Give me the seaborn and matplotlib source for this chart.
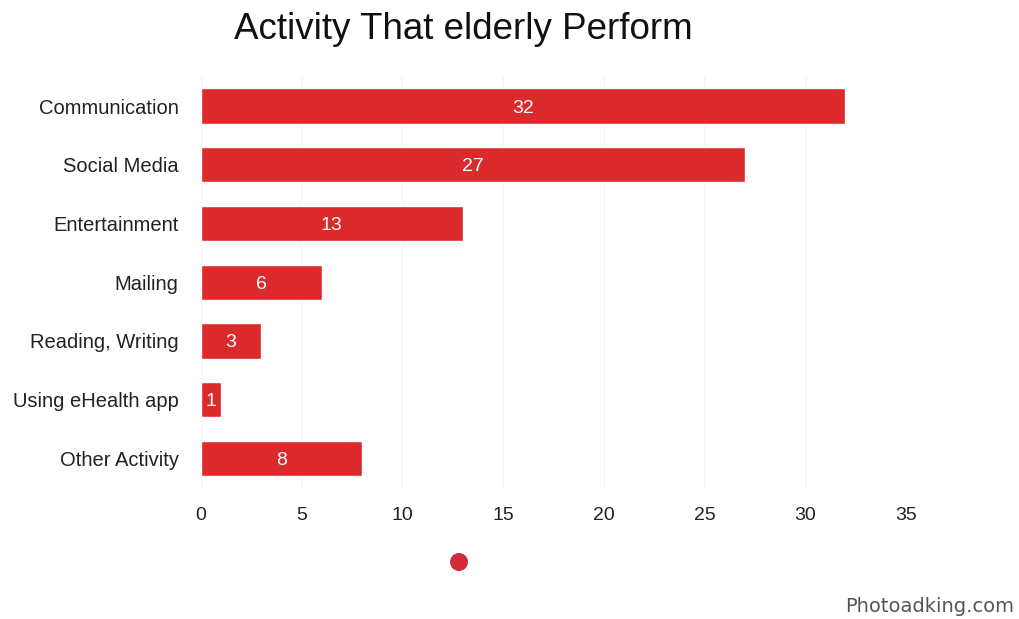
import matplotlib
matplotlib.use("Agg")
import matplotlib.pyplot as plt
import seaborn as sns
import pandas as pd
from matplotlib.patches import Ellipse

categories = ["Communication", "Social Media", "Entertainment", "Mailing",
              "Reading, Writing", "Using eHealth app", "Other Activity"]
values = [32, 27, 13, 6, 3, 1, 8]
xticks = [0, 5, 10, 15, 20, 25, 30, 35]

df = pd.DataFrame({"activity": categories, "count": values})

sns.set_theme(style="white")
plt.rcParams['font.family'] = ['Liberation Sans', 'DejaVu Sans']

fig = plt.figure(figsize=(10.19, 6.19), dpi=100)
ax = fig.add_axes([0.197, 0.212, 0.692, 0.664])

sns.barplot(data=df, x="count", y="activity", color="#dc2a2c", width=0.6,
            saturation=1, ax=ax, zorder=3)

for patch, v in zip(ax.patches, values):
    w = patch.get_width()
    y = patch.get_y() + patch.get_height() / 2
    ax.text(w / 2, y, str(v), ha="center", va="center_baseline", color="white", fontsize=14)

ax.set_xlim(0, 35)
ax.set_ylim(6.5, -0.5)
ax.set_xticks(xticks)
ax.set_xticklabels([str(t) for t in xticks], fontsize=14, color="#222222")
ax.tick_params(axis="y", labelsize=14.5, colors="#222222", pad=16, length=0)
ax.tick_params(axis="x", pad=14, length=0)
ax.set_xlabel("")
ax.set_ylabel("")
ax.grid(axis="x", color="#f3f3f3", linewidth=1, zorder=0)
for s in ax.spines.values():
    s.set_visible(False)

fig.text(0.455, 0.952, "Activity That elderly Perform", ha="center", va="center",
         fontsize=26.5, color="#111111")
fig.text(0.995, 0.005, "Photoadking.com", ha="right", va="bottom",
         fontsize=14, color="#555555", family=["DejaVu Sans"])
fig.patches.append(Ellipse((459 / 1019, 1 - 562 / 619), 18 / 1019, 18 / 619,
                           transform=fig.transFigure, facecolor="#d42a3a", edgecolor="none"))

fig.savefig("out.png", dpi=100)
